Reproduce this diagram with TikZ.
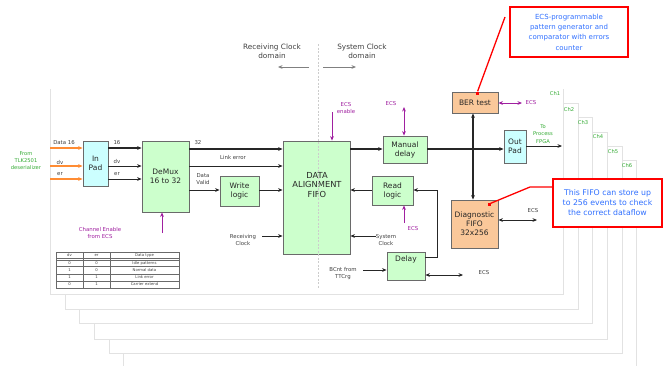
\documentclass[tikz,border=0pt]{standalone}
\usepackage{fontspec}
\setmainfont{DejaVu Sans}
\usetikzlibrary{arrows.meta,calc}
\newcommand\myfs[2]{\fontsize{#1}{#2}\selectfont}
\definecolor{gfill}{HTML}{CCFFCC}
\definecolor{cfill}{HTML}{CCFFFF}
\definecolor{ofill}{HTML}{FAC89A}
\definecolor{bgray}{HTML}{6A6A6A}
\definecolor{orng}{HTML}{FF8C33}
\definecolor{purp}{HTML}{A020A0}
\definecolor{grn}{HTML}{33AA33}
\definecolor{blu}{HTML}{3070FF}
\definecolor{frm}{HTML}{E2E2E2}
\definecolor{txt}{HTML}{404040}
\begin{document}
\begin{tikzpicture}[x=1pt,y=-1pt,
  >={Stealth[length=4.5pt,width=3.8pt]},
  blk/.style={draw=bgray,line width=0.9pt,inner sep=0pt,align=center,font=\myfs{7.5}{9},text=black!85},
  frame/.style={draw=frm,line width=0.7pt},
  lbl/.style={font=\myfs{5.4}{7},text=txt,inner sep=0pt,align=center},
  glbl/.style={font=\myfs{5.2}{7.2},text=grn,inner sep=0pt,align=center},
  plbl/.style={font=\myfs{5.4}{7},text=purp,inner sep=0pt,align=center},
  dom/.style={font=\myfs{7.3}{9},text=txt,inner sep=0pt,align=center},
  arr/.style={->,draw=black!85,line width=0.9pt},
  bus/.style={draw=black!85,line width=1.8pt},
  oarr/.style={->,draw=orng,line width=1.6pt},
  parr/.style={->,draw=purp,line width=1pt},
  garr/.style={->,draw=gray,line width=0.9pt},
  callout/.style={draw=red,line width=1.8pt,fill=white,align=center,text=blu,inner sep=0pt},
  tbl/.style={draw=bgray,line width=0.8pt},
  ttxt/.style={font=\myfs{3.8}{4},text=txt,inner sep=0pt}
]
\useasboundingbox (0,0) rectangle (665,365);

% ---- stacked channel frames ----
\draw[frame] (50,89) -- (50,294) -- (563,294) -- (563,89);
\draw[frame] (65,294) -- (65,309) -- (578,309) -- (578,103) -- (563,103);
\draw[frame] (79,309) -- (79,323) -- (592,323) -- (592,117) -- (578,117);
\draw[frame] (94,323) -- (94,339) -- (607,339) -- (607,132) -- (592,132);
\draw[frame] (109,339) -- (109,353) -- (622,353) -- (622,146) -- (607,146);
\draw[frame] (123,353) -- (123,366);
\draw[frame] (636,366) -- (636,160) -- (622,160);
\node[glbl] (ch1) at (555,94) {Ch1};
\node[glbl] (ch2) at (569,110) {Ch2};
\node[glbl] (ch3) at (583,123) {Ch3};
\node[glbl] (ch4) at (598,137) {Ch4};
\node[glbl] (ch5) at (613,152) {Ch5};
\node[glbl] (ch6) at (627,166) {Ch6};

% ---- clock domains ----
\node[dom] (rcd) at (272,51) {Receiving Clock\\domain};
\node[dom] (scd) at (362,51) {System Clock\\domain};
\coordinate (dl1) at (309,67); \coordinate (dl2) at (278,67);
\coordinate (dr1) at (323,67); \coordinate (dr2) at (356,67);
\draw[garr] (dl1) -- (dl2);
\draw[garr] (dr1) -- (dr2);

% ---- blocks ----
\node[blk,fill=cfill,minimum width=25,minimum height=45] (inpad) at (95.5,163.5) {In\\Pad};
\node[blk,fill=gfill,minimum width=47,minimum height=71] (demux) at (165.5,176.5) {DeMux\\16 to 32};
\node[blk,fill=gfill,minimum width=39,minimum height=30] (write) at (239.5,191) {Write\\logic};
\node[blk,fill=gfill,minimum width=67,minimum height=113] (daf) at (316.5,197.5) {};
\node[font=\myfs{8.3}{9.3},text=black!85,align=center,inner sep=0pt] (daft) at (317,185) {DATA\\ALIGNMENT\\FIFO};
\node[blk,fill=gfill,minimum width=44,minimum height=27] (manual) at (405,149.5) {Manual\\delay};
\node[blk,fill=gfill,minimum width=41,minimum height=29] (read) at (392.5,190.5) {Read\\logic};
\node[blk,fill=gfill,minimum width=38,minimum height=28] (delay) at (406,266) {};
\node[font=\myfs{7.5}{9},text=black!85,inner sep=0pt] (delayt) at (406,259.5) {Delay};
\node[blk,fill=ofill,minimum width=46,minimum height=21] (ber) at (475,102.5) {BER test};
\node[blk,fill=cfill,minimum width=22,minimum height=33] (outpad) at (515,146.5) {Out\\Pad};
\node[blk,fill=ofill,minimum width=47,minimum height=48] (diag) at (474.5,224) {Diagnostic\\FIFO\\32x256};

% ---- inputs ----
\node[glbl] (tlk) at (26,160.5) {From\\TLK2501\\deserializer};
\coordinate (in1) at (50,148); \coordinate (in2) at (50,166); \coordinate (in3) at (50,179);
\draw[oarr] (in1) -- (inpad.west |- in1);
\draw[oarr] (in2) -- (inpad.west |- in2);
\draw[oarr] (in3) -- (inpad.west |- in3);
\node[lbl] (ld16) at (64,143) {Data 16};
\node[lbl] (ldv) at (60,162) {dv};
\node[lbl] (ler) at (60,174.5) {er};

\draw[arr,line width=1.6pt] (inpad.east |- in1) -- (demux.west |- in1);
\draw[arr] (inpad.east |- in2) -- (demux.west |- in2);
\draw[arr] (inpad.east |- in3) -- (demux.west |- in3);
\node[lbl] (l16) at (117,143) {16};
\node[lbl] (ldv2) at (117,161.5) {dv};
\node[lbl] (ler2) at (117,174.5) {er};

% ---- demux outputs ----
\coordinate (y32) at (0,149); \coordinate (ylk) at (0,166); \coordinate (ydv) at (0,190);
\draw[arr,line width=1.8pt] (demux.east |- y32) -- (daf.west |- y32);
\draw[arr] (demux.east |- ylk) -- (daf.west |- ylk);
\draw[arr] (demux.east |- ydv) -- (write.west |- ydv);
\draw[arr] (write.east |- ydv) -- (daf.west |- ydv);
\node[lbl] (l32) at (198,143) {32};
\node[lbl] (llk) at (233,157) {Link error};
\node[lbl] (ldval) at (203,179.5) {Data\\Valid};

\coordinate (chen) at (162,233);
\draw[parr] (chen) -- (chen |- demux.south);
\node[plbl] (lchen) at (100,233) {Channel Enable\\from ECS};

\coordinate (rclk) at (262,236);
\draw[arr] (rclk) -- (daf.west |- rclk);
\node[lbl] (lrclk) at (243,240) {Receiving\\Clock};

% ---- DAF ECS enable ----
\coordinate (ecsen) at (332,112);
\draw[parr] (ecsen) -- (ecsen |- daf.north);
\node[plbl] (lecsen) at (346,108.5) {ECS\\enable};

% ---- system side ----
\draw[arr,line width=1.8pt] (daf.east |- y32) -- (manual.west |- y32);
\draw[bus] (manual.east |- y32) -- (495,149);
\draw[arr,line width=1.8pt] (495,149) -- (outpad.west |- y32);
\coordinate (jn) at (473,149);
\draw[arr,line width=1.8pt] (jn) -- (jn |- ber.south);
\draw[arr,line width=1.8pt] (jn) -- (jn |- diag.north);

\coordinate (ecsm) at (404,107);
\draw[<->,draw=purp,line width=1pt] (ecsm) -- (ecsm |- manual.north);
\node[plbl] (lecsm) at (391,104) {ECS};

\coordinate (ryl) at (0,190);
\draw[arr] (read.west |- ryl) -- (daf.east |- ryl);
\coordinate (ecsr) at (404,223);
\draw[parr] (ecsr) -- (ecsr |- read.south);
\node[plbl] (lecsr) at (413,228.5) {ECS};

\coordinate (sclk) at (376,236);
\draw[arr] (sclk) -- (daf.east |- sclk);
\node[lbl] (lsclk) at (386,240) {System\\Clock};

\coordinate (bcnt) at (363,270);
\draw[arr] (bcnt) -- (delay.west |- bcnt);
\node[lbl] (lbcnt) at (343,273.5) {BCnt from\\TTCrg};

\coordinate (dlyo) at (0,257);
\draw[arr] (delay.east |- dlyo) -- (437,257) -- (437,190) -- (read.east |- ryl);
\coordinate (ecsd) at (463,275);
\draw[<->,draw=black!85,line width=0.9pt] (delay.east |- ecsd) -- (ecsd);
\node[lbl] (lecsd) at (484,273) {ECS};

\coordinate (ecsb) at (522,103);
\draw[<->,draw=purp,line width=1pt] (ber.east |- ecsb) -- (ecsb);
\node[plbl] (lecsb) at (531,103) {ECS};

\coordinate (tofpga) at (562,146);
\draw[arr] (outpad.east |- tofpga) -- (tofpga);
\node[glbl] (ltf) at (543,134) {To\\Process\\FPGA};

\coordinate (ecsdf) at (537,220);
\draw[<->,draw=black!85,line width=0.9pt] (diag.east |- ecsdf) -- (ecsdf);
\node[lbl] (lecsdf) at (533,210.5) {ECS};

% ---- clock divider ----
\coordinate (div1) at (318,44); \coordinate (div2) at (318,289);
\draw[draw=gray!40,line width=0.6pt,dash pattern=on 2pt off 1.5pt] (div1) -- (div2);

% ---- callouts ----
\node[callout,font=\myfs{7}{10.3},minimum width=118,minimum height=50] (c1) at (569,32) {ECS-programmable\\pattern generator and\\comparator with errors\\counter};
\node[fill=red,minimum size=3pt,inner sep=0pt] (sq1) at (477,93) {};
\coordinate (c1a) at (505,17);
\draw[red,line width=1.3pt] (c1a) -- (sq1);
\node[callout,font=\myfs{7.8}{10},minimum width=109,minimum height=48] (c2) at (607.5,203) {This FIFO can store up\\to 256 events to check\\the correct dataflow};
\node[fill=red,minimum size=3pt,inner sep=0pt] (sq2) at (489,204) {};
\coordinate (c2a) at (530,187);
\draw[red,line width=1.3pt] (c2.west |- c2a) -- (c2a) -- (sq2);

% ---- table ----
\draw[tbl] (56,252) rectangle (179,288);
\draw[tbl] (83,252) -- (83,288);
\draw[tbl] (110,252) -- (110,288);
\draw[tbl] (56,258.4) -- (179,258.4);
\draw[tbl,line width=0.5pt] (56,260) -- (179,260);
\draw[tbl,line width=0.5pt] (56,266.7) -- (179,266.7);
\draw[tbl,line width=0.5pt] (56,274) -- (179,274);
\draw[tbl,line width=0.5pt] (56,281) -- (179,281);
\node[ttxt] (t11) at (69.5,255.2) {dv};
\node[ttxt] (t12) at (96.5,255.2) {er};
\node[ttxt] (t13) at (144.5,255.2) {Data type};
\node[ttxt] (t21) at (69.5,263.3) {0};
\node[ttxt] (t22) at (96.5,263.3) {0};
\node[ttxt] (t23) at (144.5,263.3) {Idle patterns};
\node[ttxt] (t31) at (69.5,270.4) {1};
\node[ttxt] (t32) at (96.5,270.4) {0};
\node[ttxt] (t33) at (144.5,270.4) {Normal data};
\node[ttxt] (t41) at (69.5,277.5) {1};
\node[ttxt] (t42) at (96.5,277.5) {1};
\node[ttxt] (t43) at (144.5,277.5) {Link error};
\node[ttxt] (t51) at (69.5,284.5) {0};
\node[ttxt] (t52) at (96.5,284.5) {1};
\node[ttxt] (t53) at (144.5,284.5) {Carrier extend};
\end{tikzpicture}
\end{document}
